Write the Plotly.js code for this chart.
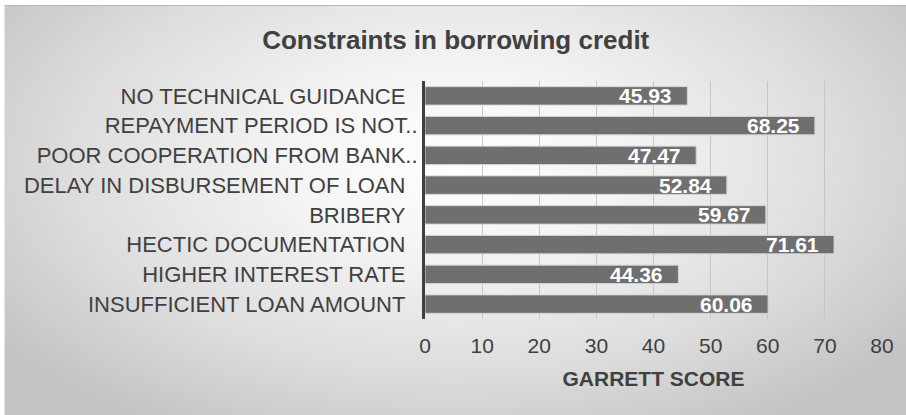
<!DOCTYPE html>
<html>
<head>
<meta charset="utf-8">
<script src="https://cdn.plot.ly/plotly-3.0.1.min.js"></script>
<style>
  html, body { margin: 0; padding: 0; background: #ffffff; }
  #wrap { position: relative; width: 906px; height: 415px; overflow: hidden; background: #ffffff; }
  #bg { position: absolute; left: 4px; top: 5px; width: 902px; height: 410px;
        border-top: 1px solid #b8b8b8; border-left: 1px solid #e8e8e8; box-sizing: border-box;
        background: radial-gradient(ellipse 62% 75% at 50% 38%, #ffffff 0%, #f4f4f4 30%, #dcdcdc 70%, #c4c4c4 100%); }
  #chart { position: absolute; left: 0; top: 0; width: 906px; height: 415px; }
</style>
</head>
<body>
<div id="wrap"><div id="bg"></div><div id="chart"></div></div>
<script>
const categories = [
  "NO TECHNICAL GUIDANCE",
  "REPAYMENT PERIOD IS NOT..",
  "POOR COOPERATION FROM BANK..",
  "DELAY IN DISBURSEMENT OF LOAN",
  "BRIBERY",
  "HECTIC DOCUMENTATION",
  "HIGHER INTEREST RATE",
  "INSUFFICIENT LOAN AMOUNT"
];
const scores = [45.93, 68.25, 47.47, 52.84, 59.67, 71.61, 44.36, 60.06];
const xTicks = [0, 10, 20, 30, 40, 50, 60, 70, 80];

const FONT = "Liberation Sans, Arial, sans-serif";
const tickText = categories.map(c => c.endsWith("..") ? c : c + "\u00a0\u00a0");

const trace = {
  type: "bar",
  orientation: "h",
  x: scores,
  y: categories,
  marker: { color: "#6f6f6f", line: { color: "#d4d4d4", width: 1 } },
  width: 0.62,
  hoverinfo: "none"
};

const annotations = categories.map((c, i) => ({
  x: scores[i], y: c, xref: "x", yref: "y",
  text: scores[i].toFixed(2),
  showarrow: false, xanchor: "right", yanchor: "middle",
  xshift: -13, yshift: 0,
  font: { family: FONT, size: 21, color: "#ffffff", weight: "bold" }
}));

const layout = {
  width: 906, height: 415,
  paper_bgcolor: "rgba(0,0,0,0)",
  plot_bgcolor: "rgba(0,0,0,0)",
  margin: { l: 425, r: 24, t: 81, b: 96 },
  showlegend: false,
  title: {
    text: "<b>Constraints in borrowing credit</b>",
    x: 0.503, xref: "container", xanchor: "center",
    y: 0.905, yref: "container", yanchor: "middle",
    font: { family: FONT, size: 26, color: "#404040" }
  },
  xaxis: {
    range: [0, 80],
    tickvals: xTicks,
    ticktext: xTicks.map(String),
    showgrid: true, gridcolor: "#c6c6c6", gridwidth: 1,
    zeroline: false, showline: false, ticks: "",
    ticklabelstandoff: 12,
    tickfont: { family: FONT, size: 21, color: "#404040" },
    automargin: true,
    title: {
      text: "<b>GARRETT SCORE</b>",
      standoff: 15,
      font: { family: FONT, size: 21, color: "#404040" }
    },
    fixedrange: true
  },
  yaxis: {
    type: "category",
    categoryorder: "array",
    categoryarray: categories,
    tickvals: categories,
    ticktext: tickText,
    range: [7.5, -0.5],
    showgrid: false, zeroline: false,
    showline: true, linecolor: "#404040", linewidth: 3,
    ticks: "", ticklabelstandoff: 0,
    tickfont: { family: FONT, size: 22, color: "#404040" },
    fixedrange: true
  },
  annotations: annotations
};

Plotly.newPlot("chart", [trace], layout, { displayModeBar: false, staticPlot: true });
</script>
</body>
</html>
